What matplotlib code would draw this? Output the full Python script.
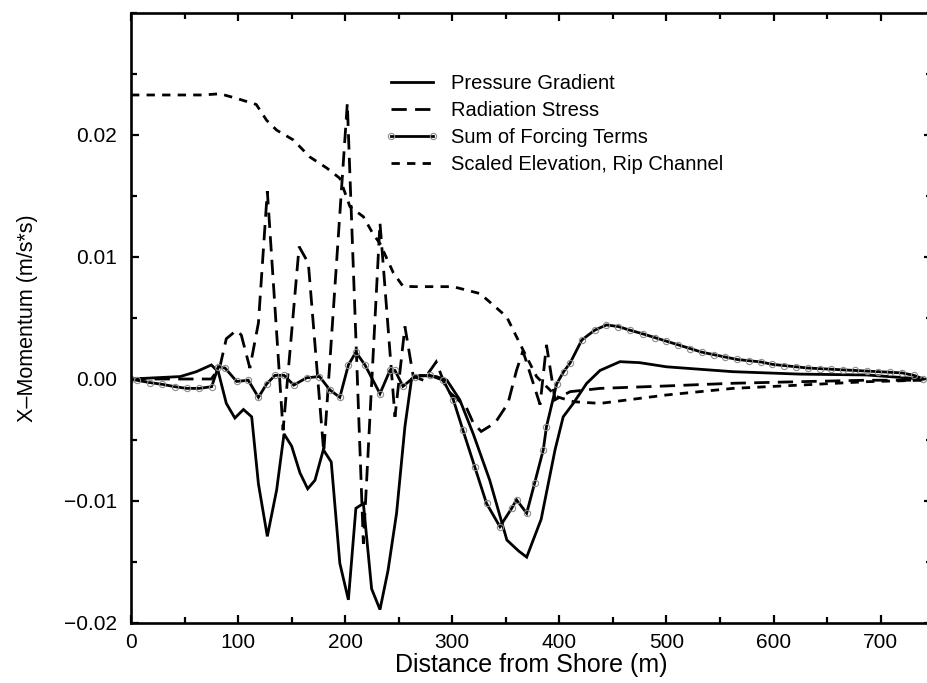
import matplotlib
matplotlib.use("Agg")
import matplotlib.pyplot as plt
from matplotlib.ticker import MultipleLocator, FuncFormatter

plt.rcParams['font.family'] = ['Liberation Sans', 'DejaVu Sans']

# Pressure gradient (solid line)
pg_x = [0, 46, 61, 75, 81.5, 89, 97, 105, 112.7, 119, 127.3, 136, 142.9, 150, 157.8, 165,
        171.8, 179.6, 187, 195, 203, 210, 217, 224.7, 232.5, 240, 248, 255.8, 262, 270, 285, 295,
        307, 319.6, 335, 351, 362, 369.5, 383, 396, 403.6, 413, 425.5, 438, 456.6, 475, 500, 562,
        624.6, 687, 739]
pg_y = [0, 0.0002, 0.0006, 0.00115, 0.0006, -0.002, -0.0032, -0.0025, -0.0031, -0.0086, -0.0129,
        -0.0091, -0.0045, -0.0055, -0.0077, -0.0090, -0.0083, -0.0058, -0.0068, -0.0151, -0.0181,
        -0.0106, -0.0102, -0.0172, -0.0189, -0.0157, -0.011, -0.0039, 0.0, 0.0003, 0.0002, -0.0001,
        -0.0017, -0.0045, -0.0083, -0.0132, -0.0141, -0.0146, -0.0115, -0.0058, -0.0031, -0.002,
        -0.00036, 0.0007, 0.00142, 0.00134, 0.001, 0.0006, 0.0004, 0.00033, 0.0]

# Radiation stress (long dashes)
rs_x = [0, 75, 83, 89, 98.6, 103, 111, 119, 127.3, 142, 157, 165.6, 180, 202, 217, 232.5,
        246.5, 255.8, 263.6, 273, 285, 295, 313, 319.6, 327, 340, 352, 360, 366, 382, 388, 396,
        410, 438, 500, 562, 624.6, 687, 739]
rs_y = [0, 0, 0.001, 0.0033, 0.0040, 0.0036, 0.0009, 0.0046, 0.0154, -0.0042, 0.01085, 0.0095,
        -0.0060, 0.0226, -0.0135, 0.0128, -0.0031, 0.0043, 0.0002, -0.0001, 0.0014, -0.0009,
        -0.0023, -0.0036, -0.0043, -0.0036, -0.0020, 0.0007, 0.0023, -0.0021, 0.0028, -0.0017,
        -0.00104, -0.00077, -0.00057, -0.00035, -0.00022, -0.0001, -0.0001]

# Sum of forcing terms (solid with open circles)
sum_x = [0, 5.3, 18, 29.4, 41, 52, 63.5, 75.3, 81.5, 87.8, 98.7, 109.5, 119, 126.7, 134.5, 142.9,
         152, 164, 176, 185.8, 195, 203, 210, 218.5, 232.5, 241.8, 246.5, 254, 265, 279, 291.6, 301,
         310, 321, 332, 344.5, 355.5, 360, 369.5, 377, 385, 388, 397.5, 404, 410, 421, 433, 444,
         455, 466, 478, 489, 500, 511, 522, 533, 544, 555, 566, 577, 588, 599, 610, 621,
         632, 643, 654, 665, 676, 687, 698, 709, 720, 731, 740]
sum_y = [0, -0.0001, -0.0003, -0.00044, -0.00063, -0.00077, -0.00077, -0.00063, 0.001, 0.0009,
         -0.0002, -0.0001, -0.0015, -0.0004, 0.0003, 0.0003, -0.0005, 0.0001, 0.0002, -0.0009,
         -0.0015, 0.00115, 0.0022, 0.00115, -0.0012, 0.0007, 0.0007, -0.0006, 0.0002, 0.0003,
         -0.0001, -0.0017, -0.0042, -0.0072, -0.0102, -0.0121, -0.0106, -0.0099, -0.011, -0.0085,
         -0.0058, -0.0039, -0.0004, 0.0006, 0.0013, 0.0032, 0.0040, 0.00443, 0.0043, 0.0040,
         0.0037, 0.0034, 0.0031, 0.0028, 0.0025, 0.0022, 0.0020, 0.0018, 0.0016, 0.0015, 0.0014,
         0.0012, 0.0011, 0.0010, 0.0009, 0.00085, 0.0008, 0.00075, 0.0007, 0.00065, 0.0006,
         0.00055, 0.0005, 0.0003, 0.0]

# Scaled elevation over the rip channel (short dashes)
el_x = [0, 67, 83, 98.7, 117, 126.7, 136, 151.5, 167, 182.7, 195, 204.5, 217, 226, 232.5, 245,
        254, 265, 300.7, 326, 350.8, 366, 378.8, 397.5, 413, 438, 500, 562, 624.6, 687, 739]
el_y = [0.02328, 0.02328, 0.02338, 0.0230, 0.0225, 0.0212, 0.0204, 0.0196, 0.0182, 0.0173,
        0.01645, 0.01412, 0.0133, 0.0119, 0.0111, 0.0087, 0.0076, 0.00757, 0.00757, 0.0070,
        0.0051, 0.0024, 0.00019, -0.00145, -0.00186, -0.0020, -0.00131, -0.00077, -0.0005,
        -0.00022, -0.0001]

fig = plt.figure(figsize=(9.27, 6.83), dpi=100)
# right spine sits just past the image edge, like the cropped original
ax = fig.add_axes([131 / 927, 60 / 683, 801 / 927, 610 / 683])

lw = 2.0
ax.plot(pg_x, pg_y, color='black', lw=lw, solid_joinstyle='miter', label='Pressure Gradient')
ax.plot(rs_x, rs_y, color='black', lw=lw, dashes=(5.5, 3.0), dash_joinstyle='miter',
        label='Radiation Stress')
ax.plot(sum_x, sum_y, color='black', lw=lw, solid_joinstyle='miter', marker='o', markersize=4.5,
        markerfacecolor='none', markeredgecolor='0.55', markeredgewidth=0.8,
        label='Sum of Forcing Terms')
ax.plot(el_x, el_y, color='black', lw=lw, dashes=(3.0, 2.6), label='Scaled Elevation, Rip Channel')

ax.set_xlim(0, 748)
ax.set_ylim(-0.02, 0.03)

# ticks on every side, pointing inward
ax.xaxis.set_major_locator(MultipleLocator(100))
ax.xaxis.set_minor_locator(MultipleLocator(50))
ax.set_yticks([-0.02, -0.01, 0.0, 0.01, 0.02])
ax.yaxis.set_minor_locator(MultipleLocator(0.005))
ax.yaxis.set_major_formatter(FuncFormatter(lambda v, p: ('%.2f' % v).replace('-', '\u2212')))
ax.tick_params(which='both', direction='in', top=True, right=True, width=1.6, labelsize=15)
ax.tick_params(which='major', length=6)
ax.tick_params(which='minor', length=4)
ax.tick_params(axis='y', which='major', pad=10)
ax.tick_params(axis='x', which='major', pad=7)
for s in ax.spines.values():
    s.set_linewidth(1.9)

ax.set_xlabel('Distance from Shore (m)', fontsize=18, labelpad=1)
ax.set_ylabel('X\u2013Momentum (m/s*s)', fontsize=15.5, labelpad=19)

ax.legend(loc='upper left', bbox_to_anchor=(385 / 927, 1 - 74 / 683), bbox_transform=fig.transFigure,
          frameon=False, fontsize=14.5, handlelength=2.7, handletextpad=0.6, labelspacing=0.4,
          borderpad=0, borderaxespad=0, numpoints=2)

fig.savefig('out.png', dpi=100)
